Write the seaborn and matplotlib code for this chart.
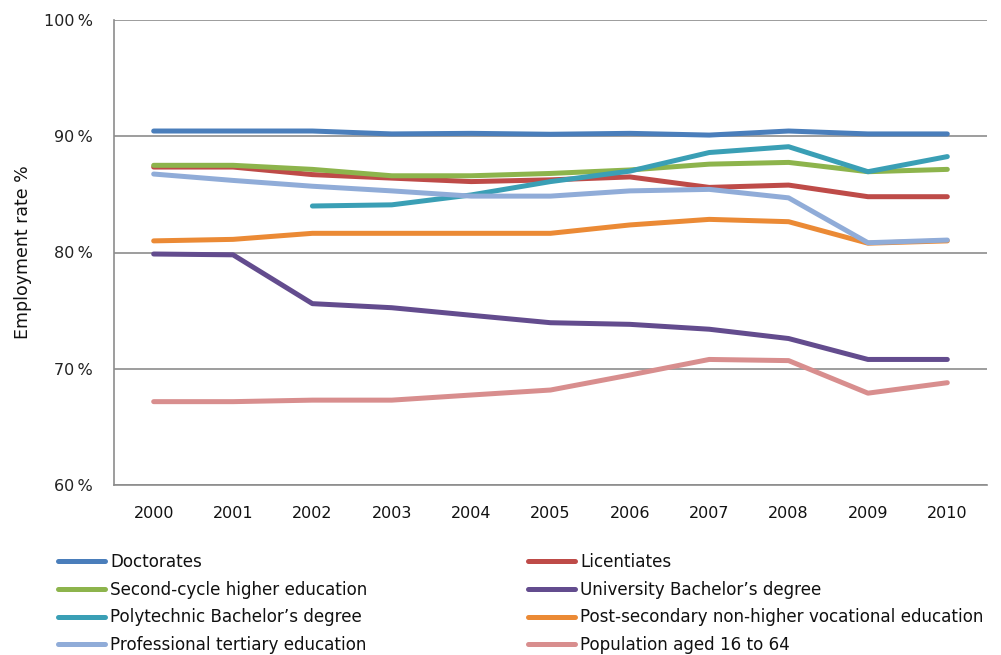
import numpy as np
import pandas as pd
import matplotlib
matplotlib.use("Agg")
import matplotlib.pyplot as plt
import seaborn as sns
from matplotlib.ticker import FixedLocator, FuncFormatter
from matplotlib.lines import Line2D

years = [2000, 2001, 2002, 2003, 2004, 2005, 2006, 2007, 2008, 2009, 2010]
doctorates = [90.45, 90.45, 90.45, 90.2, 90.25, 90.17, 90.25, 90.1, 90.45, 90.2, 90.2]
licentiates = [87.35, 87.35, 86.7, 86.4, 86.1, 86.25, 86.5, 85.6, 85.8, 84.8, 84.8]
second_cycle = [87.5, 87.5, 87.15, 86.6, 86.6, 86.8, 87.1, 87.6, 87.75, 86.95, 87.15]
univ_bachelor = [79.87, 79.8, 75.6, 75.25, 74.6, 73.96, 73.82, 73.4, 72.6, 70.8, 70.8]
poly_bachelor = [np.nan, np.nan, 84.0, 84.1, 84.95, 86.1, 87.0, 88.6, 89.1, 86.95, 88.25]
post_secondary = [81.0, 81.13, 81.65, 81.65, 81.65, 81.65, 82.37, 82.85, 82.65, 80.8, 81.0]
prof_tertiary = [86.75, 86.2, 85.7, 85.3, 84.85, 84.85, 85.3, 85.43, 84.7, 80.84, 81.07]
population = [67.17, 67.17, 67.3, 67.3, 67.74, 68.17, 69.46, 70.8, 70.7, 67.9, 68.8]

series_names = [
    "Doctorates", "Licentiates", "Second-cycle higher education",
    "University Bachelor\u2019s degree", "Polytechnic Bachelor\u2019s degree",
    "Post-secondary non-higher vocational education",
    "Professional tertiary education", "Population aged 16 to 64",
]
series_values = [doctorates, licentiates, second_cycle, univ_bachelor,
                 poly_bachelor, post_secondary, prof_tertiary, population]
colors = ["#4A7EBB", "#BE4B48", "#8DB44C", "#634C8E",
          "#3A9FB5", "#EB8A35", "#90ACD8", "#D88E8E"]

rows = []
for name, vals in zip(series_names, series_values):
    for y, v in zip(years, vals):
        if not np.isnan(v):
            rows.append({"Year": y, "Rate": v, "Series": name})
df = pd.DataFrame(rows)

sns.set_style("white")
plt.rcParams["font.family"] = ["DejaVu Sans"]

fig = plt.figure(figsize=(10.01, 6.55), dpi=100)
ax = fig.add_axes([114 / 1001, 1 - 485 / 655, (987 - 114) / 1001, (485 - 20) / 655])

sns.lineplot(data=df, x="Year", y="Rate", hue="Series", hue_order=series_names,
             palette=dict(zip(series_names, colors)), linewidth=3.6,
             legend=False, ax=ax, estimator=None, sort=False)

ax.set_xlim(1999.5, 2010.5)
ax.set_ylim(60, 100)

grid_col = "#8C8C8C"
ax.yaxis.set_major_locator(FixedLocator([60, 70, 80, 90, 100]))
ax.yaxis.set_major_formatter(FuncFormatter(lambda v, p: f"{int(v)}\u2009%"))
ax.grid(axis="y", color=grid_col, linewidth=1.2)
ax.set_axisbelow(True)

ax.xaxis.set_major_locator(FixedLocator([y - 0.5 for y in years] + [years[-1] + 0.5]))
ax.xaxis.set_major_formatter(FuncFormatter(lambda v, p: ""))
ax.xaxis.set_minor_locator(FixedLocator(years))
ax.xaxis.set_minor_formatter(FuncFormatter(lambda v, p: f"{int(round(v))}"))
ax.tick_params(axis="x", which="major", length=6, width=1.2, color=grid_col, direction="out")
ax.tick_params(axis="x", which="minor", length=0, pad=15, labelsize=11.5, labelcolor="#111111")
ax.tick_params(axis="y", which="major", length=4.5, width=1.2, color=grid_col,
               direction="out", pad=10.5, labelsize=11.5, labelcolor="#222222")

for s in ["top", "right"]:
    ax.spines[s].set_visible(False)
for s in ["left", "bottom"]:
    ax.spines[s].set_color(grid_col)
    ax.spines[s].set_linewidth(1.2)

ax.set_xlabel("")
ax.set_ylabel("Employment rate %", fontsize=12.5, color="#111111", labelpad=9)

proxy = {n: Line2D([0], [0], color=c, linewidth=3.6) for n, c in zip(series_names, colors)}
col1 = [series_names[i] for i in (0, 2, 4, 6)]
col2 = [series_names[i] for i in (1, 3, 5, 7)]
for names, xpos in ((col1, 58 / 1001), (col2, 528 / 1001)):
    leg = fig.legend([proxy[n] for n in names], names, loc="upper left",
                     bbox_to_anchor=(xpos, 1 - 553 / 655), frameon=False,
                     fontsize=12.1, handlelength=2.8, handletextpad=0.3,
                     labelspacing=0.58, borderpad=0, borderaxespad=0)
    for t in leg.get_texts():
        t.set_color("#111111")

fig.savefig("out.png", dpi=100)
